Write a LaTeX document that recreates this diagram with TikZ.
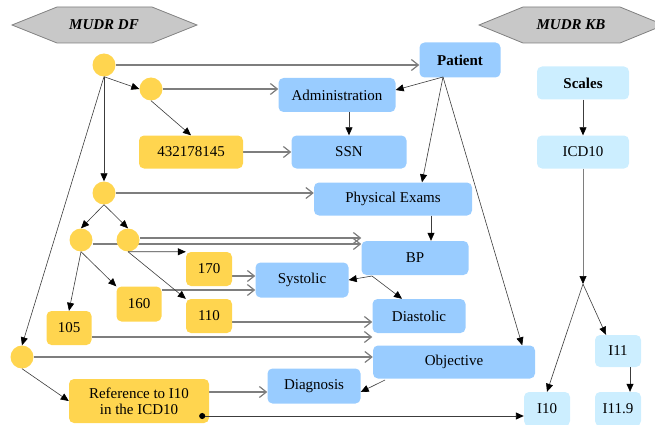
\documentclass[tikz,border=0pt]{standalone}
\usepackage{fontspec}
\setmainfont{Liberation Serif}
\newfontfamily\diagfont{Liberation Serif}
\usetikzlibrary{arrows.meta,backgrounds}
\definecolor{dfyellow}{HTML}{FFD54F}
\definecolor{dfblue}{HTML}{99CCFF}
\definecolor{kbblue}{HTML}{CCEEFF}
\definecolor{hexgray}{HTML}{C8C8C8}
\definecolor{linegray}{HTML}{7E7E7E}
\definecolor{linedark}{HTML}{3C3C3C}
\tikzset{
  box/.style={rectangle, rounded corners=5pt, inner sep=0pt, align=center,
    font=\diagfont\fontsize{15}{16}\selectfont},
  dfval/.style={box, fill=dfyellow},
  dfent/.style={box, fill=dfblue},
  kbent/.style={box, fill=kbblue},
  dot/.style={circle, fill=dfyellow, minimum size=23pt, inner sep=0pt},
  hexa/.style={fill=hexgray, draw=gray, line width=0.8pt},
  link/.style={draw=linedark, line width=0.6pt, -{Triangle[length=8pt,width=7pt,color=black]}},
  flow/.style={draw=linegray, line width=1.2pt, -{Straight Barb[length=7pt,width=11pt]}},
}
\begin{document}
\begin{tikzpicture}[x=1pt,y=-1pt]
      \useasboundingbox (0,0) rectangle (655,425);
      \draw[hexa] (12,25) -- (57,7) -- (152,7) -- (197,25) -- (152,43) -- (57,43) -- cycle;
      \draw[hexa] (479,25) -- (523,7) -- (620,7) -- (664,25) -- (620,43) -- (523,43) -- cycle;
      \draw
        (104,25) node[font=\diagfont\fontsize{15}{16}\selectfont\bfseries\itshape] (df){MUDR DF}
        (571,25) node[font=\diagfont\fontsize{15}{16}\selectfont\bfseries\itshape] (kb){MUDR KB};
      \draw
        (104,65) node[dot] (c1){}
        (151,89) node[dot] (c2){}
        (104,193) node[dot] (c3){}
        (81,240) node[dot] (c4){}
        (128,240) node[dot] (c5){}
        (22,357) node[dot] (c6){};
      \draw
        (191,152) node[dfval, minimum width=104pt, minimum height=33pt] (n432){432178145}
        (209,269) node[dfval, minimum width=46pt, minimum height=34pt] (n170){170}
        (139,304) node[dfval, minimum width=45pt, minimum height=35pt] (n160){160}
        (209,316) node[dfval, minimum width=46pt, minimum height=34pt] (n110){110}
        (69,328) node[dfval, minimum width=45pt, minimum height=34pt] (n105){105}
        (139,401) node[dfval, minimum width=140pt, minimum height=44pt] (ref){Reference to I10\\in the ICD10};
      \draw
        (460,60) node[dfent, minimum width=81pt, minimum height=35pt] (patient){\textbf{Patient}}
        (337,95) node[dfent, minimum width=117pt, minimum height=34pt] (admin){Administration}
        (349,152) node[dfent, minimum width=115pt, minimum height=33pt] (ssn){SSN}
        (393,199) node[dfent, minimum width=158pt, minimum height=33pt] (phys){Physical Exams}
        (415,258) node[dfent, minimum width=107pt, minimum height=34pt] (bp){BP}
        (302,280) node[dfent, minimum width=93pt, minimum height=35pt] (sys){Systolic}
        (419,316) node[dfent, minimum width=93pt, minimum height=34pt] (dia){Diastolic}
        (454,362) node[dfent, minimum width=162pt, minimum height=33pt] (obj){Objective}
        (314,386) node[dfent, minimum width=93pt, minimum height=35pt] (diag){Diagnosis};
      \draw
        (583,83) node[kbent, minimum width=92pt, minimum height=33pt] (scales){\textbf{Scales}}
        (583,152) node[kbent, minimum width=92pt, minimum height=33pt] (icd){ICD10}
        (618,351) node[kbent, minimum width=46pt, minimum height=32pt] (i11){I11}
        (547,409) node[kbent, minimum width=46pt, minimum height=34pt] (i10){I10}
        (618,409) node[kbent, minimum width=46pt, minimum height=34pt] (i119){I11.9};
      \coordinate (pfork) at (443,77);
      \coordinate (bfork) at (372,276);
      \coordinate (ofork) at (385,380);
      \coordinate (kfork) at (583,284);
      \begin{pgfonlayer}{background}
      \begin{scope}[flow]
        \draw (c1.east) to (c1.east -| patient.west);
        \draw (c2.east) to (c2.east -| admin.west);
        \draw (n432.east) to (n432.east -| ssn.west);
        \draw (c3.east) to (c3.east -| phys.west);
        \draw ([yshift=2pt]c5.east) to ([yshift=2pt]c5.east -| bp.west);
        \draw ([yshift=-4pt]c4.east) to ([yshift=-4pt]c4.east -| bp.west);
        \draw ([yshift=-7pt]n170.east) to ([yshift=-7pt]n170.east -| sys.west);
        \draw ([yshift=14pt]n160.east) to ([yshift=14pt]n160.east -| sys.west);
        \draw ([yshift=-6pt]n110.east) to ([yshift=-6pt]n110.east -| dia.west);
        \draw ([yshift=-9pt]n105.east) to ([yshift=-9pt]n105.east -| dia.west);
        \draw (c6.east) to (c6.east -| obj.west);
        \draw ([yshift=9pt]ref.east) to ([yshift=9pt]ref.east -| diag.west);
      \end{scope}
      \end{pgfonlayer}
      \begin{scope}[link]
        \draw (c1.south) to (c2.west);
        \draw (c2.south) to (n432.north);
        \draw (c1) to (c3);
        \draw (c1.south) to (c6.north);
        \draw (c3.south) to (c4.north);
        \draw (c3.south) to (c5.north);
        \draw (c4.south) to (n105.north);
        \draw (c4.south) to (n160.north west);
        \draw (c5.south) to (n170.north west);
        \draw (c5.south) to (n110.north west);
        \draw (c6.south) to (ref.west);
        \draw (pfork) to ([yshift=5pt]admin.east);
        \draw (admin.south -| ssn.north) to (ssn.north);
        \draw (pfork) to ([xshift=29pt]phys.north);
        \draw (pfork) to ([xshift=-13pt]obj.north east);
        \draw ([xshift=16pt]bp.north |- phys.south) to ([xshift=16pt]bp.north);
        \draw (bfork) to (sys.east);
        \draw (bfork) to ([xshift=-17pt]dia.north);
        \draw (ofork) to ([yshift=-6pt]diag.east);
        \draw (scales) to (icd);
        \draw[draw=linegray] (icd.south) to (kfork);
        \draw (kfork) to (i10.north);
        \draw (kfork) to ([xshift=-12pt]i11.north);
        \draw ([xshift=12pt]i11.south) to ([xshift=12pt]i119.north);
        \draw[line width=0.9pt, {Circle[length=6pt,color=black]}-{Triangle[length=8pt,width=7pt,color=black]}]
          ([xshift=-10pt,yshift=-15pt]ref.east) to ([yshift=-15pt]ref.east -| i10.west);
      \end{scope}
    \end{tikzpicture}
\end{document}
